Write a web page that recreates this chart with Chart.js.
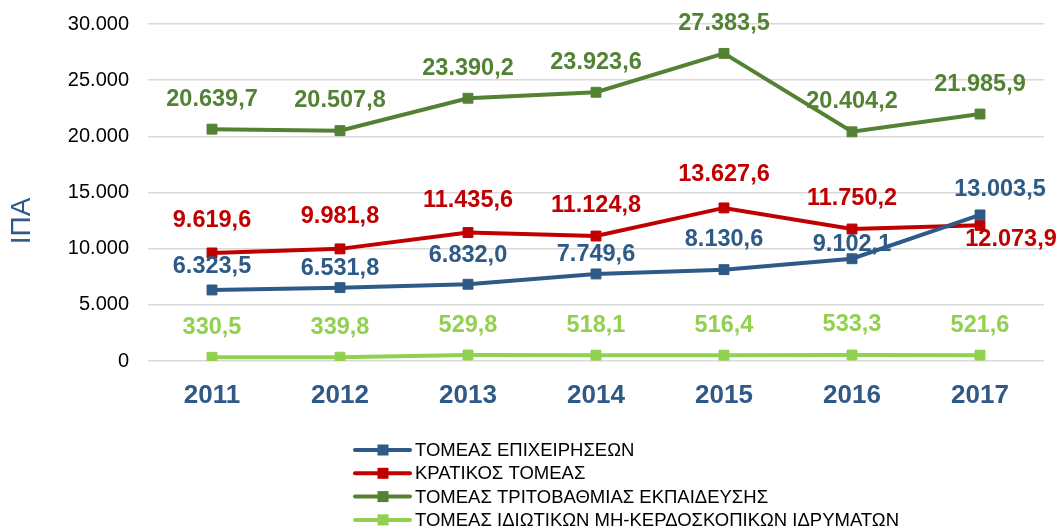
<!DOCTYPE html>
<html lang="el">
<head>
    <meta charset="UTF-8">
    <title>ΙΠΑ ανά τομέα 2011-2017</title>
    <style>
        body {
            margin: 0;
            padding: 0;
            background-color: white;
        }
        canvas {
            display: block;
        }
    </style>
</head>
<body>
    <canvas id="myChart" width="1059" height="529"></canvas>

    <script src="https://cdn.jsdelivr.net/npm/chart.js"></script>
    <script>
        const years = ['2011', '2012', '2013', '2014', '2015', '2016', '2017'];
        const business = [6323.5, 6531.8, 6832.0, 7749.6, 8130.6, 9102.1, 13003.5];
        const government = [9619.6, 9981.8, 11435.6, 11124.8, 13627.6, 11750.2, 12073.9];
        const higherEd = [20639.7, 20507.8, 23390.2, 23923.6, 27383.5, 20404.2, 21985.9];
        const privateNonProfit = [330.5, 339.8, 529.8, 518.1, 516.4, 533.3, 521.6];
        const yTitle = 'ΙΠΑ';

        const FONT = '"Liberation Sans", Arial, sans-serif';
        const AXIS_BLUE = '#2E5A87';

        // greek number format: 20.639,7
        function fmt(v, dec) {
            const parts = v.toFixed(dec).split('.');
            const intPart = parts[0].replace(/\B(?=(\d{3})+(?!\d))/g, '.');
            return parts.length > 1 ? intPart + ',' + parts[1] : intPart;
        }

        function series(label, values, color, dy, dx) {
            return {
                label: label,
                data: values,
                borderColor: color,
                backgroundColor: color,
                borderWidth: 4,
                pointStyle: 'rect',
                pointRadius: 7,
                pointBorderWidth: 1,
                pointHoverRadius: 7,
                tension: 0,
                labelDy: dy,
                labelDx: dx
            };
        }

        // value labels drawn next to the points
        const valueLabels = {
            id: 'valueLabels',
            afterDatasetsDraw(chart) {
                const ctx = chart.ctx;
                ctx.save();
                ctx.font = 'bold 23.5px ' + FONT;
                ctx.textAlign = 'center';
                ctx.textBaseline = 'middle';
                chart.data.datasets.forEach((ds, i) => {
                    const meta = chart.getDatasetMeta(i);
                    ctx.fillStyle = ds.borderColor;
                    meta.data.forEach((pt, j) => {
                        const dy = ds.labelDy[j];
                        const dx = ds.labelDx ? ds.labelDx[j] : 0;
                        ctx.fillText(fmt(ds.data[j], 1), pt.x + dx, pt.y + dy);
                    });
                });
                ctx.restore();
            }
        };

        // vertical legend at the bottom + rotated y title
        const extras = {
            id: 'extras',
            afterDraw(chart) {
                const ctx = chart.ctx;
                const x0 = 355, rowY = 450, rowGap = 23.3;
                ctx.save();
                ctx.font = '18.5px ' + FONT;
                ctx.textBaseline = 'middle';
                chart.data.datasets.forEach((ds, i) => {
                    const y = rowY + i * rowGap;
                    ctx.strokeStyle = ds.borderColor;
                    ctx.lineWidth = 4;
                    ctx.lineCap = 'round';
                    ctx.beginPath();
                    ctx.moveTo(x0, y);
                    ctx.lineTo(x0 + 55, y);
                    ctx.stroke();
                    ctx.fillStyle = ds.borderColor;
                    ctx.fillRect(x0 + 22.5, y - 5.5, 11, 11);
                    ctx.fillStyle = '#000';
                    ctx.fillText(ds.label, x0 + 60, y + 1);
                });

                ctx.translate(22, 221);
                ctx.rotate(-Math.PI / 2);
                ctx.font = '28px ' + FONT;
                ctx.textAlign = 'center';
                ctx.fillStyle = AXIS_BLUE;
                ctx.fillText(yTitle, 0, 0);
                ctx.restore();
            }
        };

        const blueDy = [-23, -19, -29, -19, -30, -14, -25];
        const blueDx = [0, 0, 0, 0, 0, 0, 20];
        const redDy = [-32, -32, -32, -31, -33, -30, 14];
        const redDx = [0, 0, 0, 0, 0, 0, 31];
        const upDy = [-30, -30, -30, -30, -30, -30, -30];

        const data = {
            labels: years,
            datasets: [
                series('ΤΟΜΕΑΣ ΕΠΙΧΕΙΡΗΣΕΩΝ', business, AXIS_BLUE, blueDy, blueDx),
                series('ΚΡΑΤΙΚΟΣ ΤΟΜΕΑΣ', government, '#C00000', redDy, redDx),
                series('ΤΟΜΕΑΣ ΤΡΙΤΟΒΑΘΜΙΑΣ ΕΚΠΑΙΔΕΥΣΗΣ', higherEd, '#548235', upDy, null),
                series('ΤΟΜΕΑΣ ΙΔΙΩΤΙΚΩΝ ΜΗ-ΚΕΡΔΟΣΚΟΠΙΚΩΝ ΙΔΡΥΜΑΤΩΝ', privateNonProfit, '#92D050', upDy, null)
            ]
        };

        const dt = document.getElementById('myChart').getContext('2d');
        const chart = new Chart(dt, {
            type: 'line',
            data: data,
            plugins: [valueLabels, extras],
            options: {
                responsive: false,
                animation: false,
                layout: {
                    padding: { top: 24, right: 15, bottom: 118, left: 0 }
                },
                plugins: {
                    legend: { display: false },
                    tooltip: { enabled: false }
                },
                scales: {
                    x: {
                        offset: true,
                        grid: { display: false, drawTicks: false },
                        border: { display: false },
                        ticks: {
                            color: AXIS_BLUE,
                            font: { family: FONT, size: 26, weight: 'bold' },
                            padding: 19
                        },
                        afterFit(scale) { scale.height = 50; }
                    },
                    y: {
                        min: 0,
                        max: 30000,
                        border: { display: false },
                        grid: { color: '#D9D9D9', lineWidth: 1.5, drawTicks: false },
                        ticks: {
                            stepSize: 5000,
                            color: '#000',
                            padding: 19,
                            font: { family: FONT, size: 20 },
                            callback: (v) => fmt(v, 0)
                        },
                        afterFit(scale) {
                            scale.width = 148;
                            scale.paddingTop = 0;
                            scale.paddingBottom = 0;
                        }
                    }
                }
            }
        });
    </script>
</body>
</html>
